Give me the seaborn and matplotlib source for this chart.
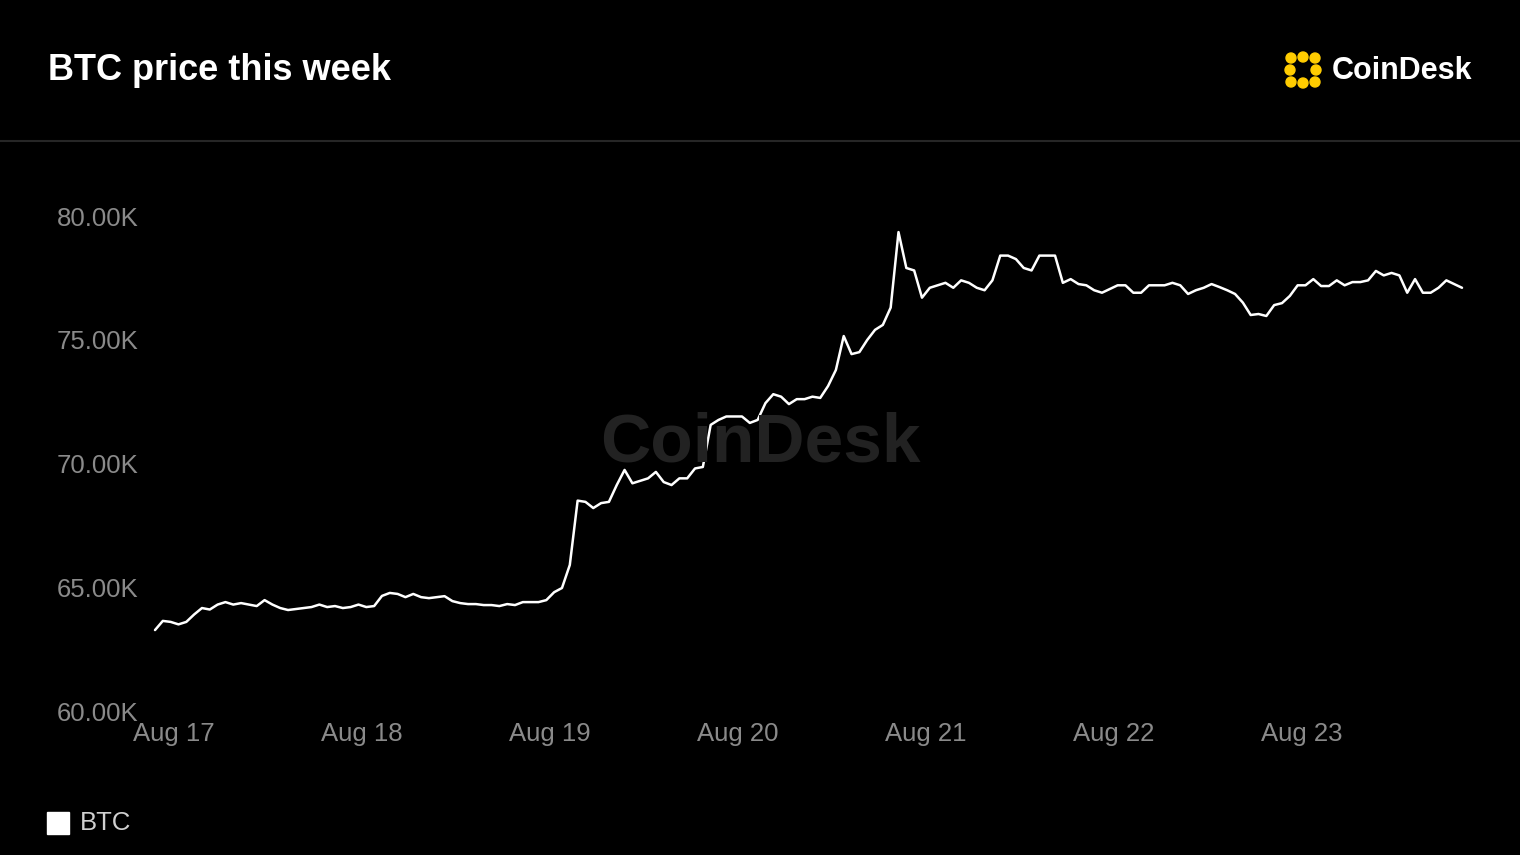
import numpy as np
import pandas as pd
import matplotlib
matplotlib.use("Agg")
import matplotlib.pyplot as plt
import matplotlib.dates as mdates
import matplotlib.patches as mpatches
import seaborn as sns

values = [63.27,63.64,63.6,63.5,63.6,63.9,64.16,64.1,64.3,64.4,64.3,64.36,64.3,64.24,64.48,64.3,
64.16,64.08,64.12,64.16,64.2,64.3,64.2,64.24,64.16,64.2,64.3,64.2,64.24,64.65,64.77,64.73,64.6,
64.73,64.6,64.56,64.6,64.64,64.44,64.36,64.32,64.32,64.28,64.28,64.24,64.32,64.28,64.4,64.4,64.4,
64.48,64.8,64.97,65.9,68.5,68.45,68.2,68.4,68.45,69.13,69.74,69.2,69.3,69.4,69.66,69.25,69.13,69.4,
69.4,69.8,69.86,71.56,71.76,71.9,71.9,71.9,71.64,71.76,72.44,72.8,72.7,72.4,72.6,72.6,72.7,72.65,
73.13,73.78,75.15,74.42,74.5,74.99,75.4,75.6,76.3,79.35,77.9,77.8,76.7,77.1,77.2,77.3,77.1,77.4,
77.3,77.1,77.0,77.4,78.4,78.4,78.26,77.9,77.8,78.4,78.4,78.4,77.3,77.45,77.25,77.2,77.0,76.9,77.05,
77.2,77.2,76.9,76.9,77.2,77.2,77.2,77.3,77.2,76.85,77.0,77.1,77.25,77.13,77.0,76.85,76.5,76.0,76.04,
75.96,76.4,76.48,76.77,77.2,77.2,77.45,77.17,77.17,77.4,77.2,77.33,77.33,77.4,77.78,77.6,77.7,77.6,
76.9,77.45,76.9,76.9,77.1,77.4,77.25,77.1]
start, end = "2024-08-16 21:34", "2024-08-23 20:25"
times = pd.date_range(start, end, periods=len(values))
yticks = [60, 65, 70, 75, 80]
ytick_labels = ["60.00K", "65.00K", "70.00K", "75.00K", "80.00K"]
xtick_days = pd.date_range("2024-08-17", "2024-08-23", freq="D")
xtick_labels = ["Aug 17", "Aug 18", "Aug 19", "Aug 20", "Aug 21", "Aug 22", "Aug 23"]

df = pd.DataFrame({"time": times, "price": values})

sns.set_theme(style="dark")
plt.rcParams['font.family'] = ['Liberation Sans', 'DejaVu Sans']
fig = plt.figure(figsize=(15.2, 8.55), dpi=100, facecolor="black")
ax = fig.add_axes([155/1520, 1-711/855, (1462-155)/1520, (711-216)/855])
ax.set_facecolor("black")
sns.lineplot(data=df, x="time", y="price", ax=ax, color="white", linewidth=1.8, clip_on=False)
ax.set_xlim(times[0], times[-1])
ax.set_ylim(60, 80)
ax.set_yticks(yticks)
ax.set_yticklabels(ytick_labels)
ax.set_xticks(xtick_days)
ax.set_xticklabels(xtick_labels)
ax.tick_params(axis="y", colors="#8a8a8a", labelsize=18.5, pad=12, length=0)
ax.tick_params(axis="x", colors="#8a8a8a", labelsize=18.5, pad=8, length=0)
ax.grid(False)
for s in ax.spines.values():
    s.set_visible(False)
ax.set_xlabel(""); ax.set_ylabel("")

# header
fig.text(48/1520, 1-70/855, "BTC price this week", color="white", fontsize=26,
         fontweight="bold", va="center", ha="left")
fig.add_artist(plt.Line2D([0, 1], [1-141/855]*2, color="#262626", linewidth=1.5))
fig.text(1472/1520, 1-71/855, "CoinDesk", color="white", fontsize=22, fontweight="bold",
         va="center", ha="right")
# logo icon
for (px, py) in [(1291,58),(1303,57),(1315,58),(1290,70),(1291,82),(1303,83),(1315,82),(1316,70)]:
    fig.add_artist(mpatches.Ellipse((px/1520, 1-py/855), 10/1520, 10/855, color="#ffcc00",
                                    transform=fig.transFigure))
# watermark
fig.text(760/1520, 1-443/855, "CoinDesk", color="#222222", fontsize=50, fontweight="bold",
         va="center", ha="center", zorder=0)

# legend
fig.add_artist(mpatches.Rectangle((47/1520, 1-834/855), 22/1520, 22/855, color="white",
                                  transform=fig.transFigure))
fig.text(80/1520, 1-823/855, "BTC", color="#d0d0d0", fontsize=18.5, va="center", ha="left")

fig.savefig("out.png", dpi=100, facecolor="black")
